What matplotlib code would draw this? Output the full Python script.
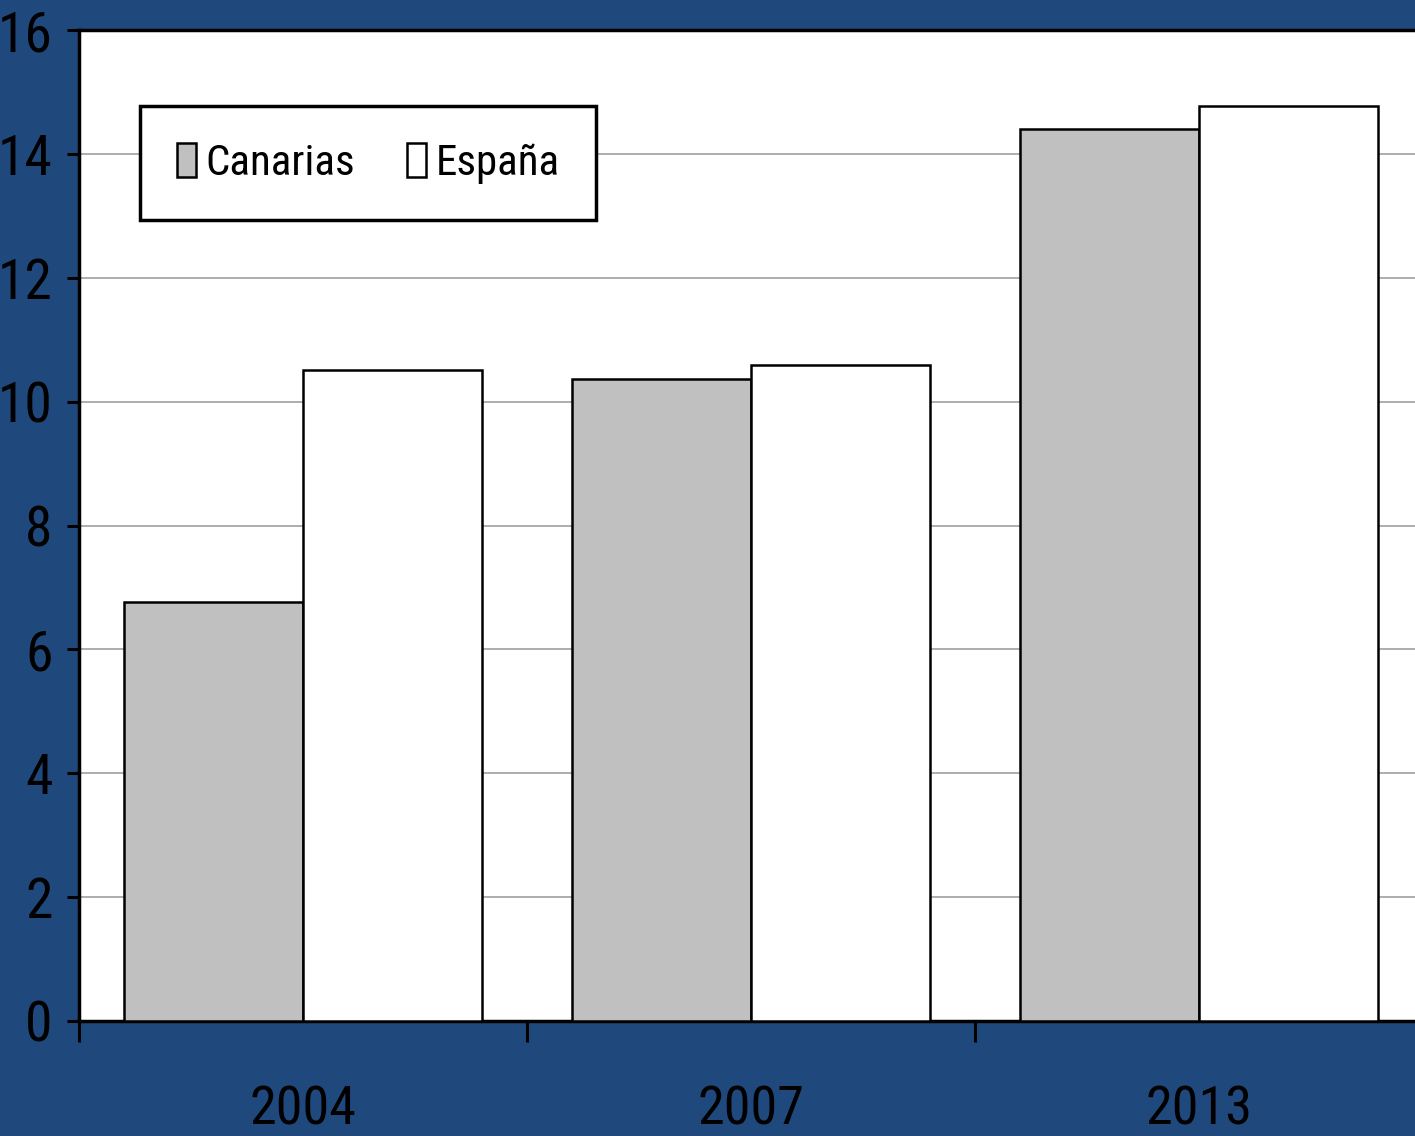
import matplotlib.pyplot as plt
from matplotlib import font_manager
import numpy as np

years = ['2004', '2007', '2013']
canarias = [6.77, 10.36, 14.4]
espana = [10.51, 10.59, 14.78]

# look for a narrow sans font, otherwise fall back to a condensed DejaVu
names = {(f.name, f.stretch) for f in font_manager.fontManager.ttflist}
fam = ['DejaVu Sans']
stretch = 'normal'
for cand in ['Liberation Sans Narrow', 'Roboto Condensed', 'Open Sans Condensed', 'Noto Sans Condensed']:
    if any(n == cand for n, s in names):
        fam = [cand, 'DejaVu Sans']
        break
else:
    if any(n == 'DejaVu Sans' and s in ('condensed', 'semi-condensed', 600, 700) for n, s in names):
        stretch = 'condensed'
plt.rcParams['font.family'] = fam
plt.rcParams['font.stretch'] = stretch

bg = '#1F487C'
fig = plt.figure(figsize=(14.15, 11.36), dpi=100, facecolor=bg)
ax = fig.add_axes([79 / 1415, 115 / 1136, 1344 / 1415, 991 / 1136])

x = np.arange(len(years))
w = 0.4
ax.bar(x - w / 2, canarias, w, color='#C0C0C0', edgecolor='black', linewidth=1.8, label='Canarias', zorder=3)
ax.bar(x + w / 2, espana, w, color='white', edgecolor='black', linewidth=1.8, label='España', zorder=3)

ax.set_xlim(-0.5, 2.5)
ax.set_ylim(0, 16)
ax.set_yticks(np.arange(0, 17, 2))
ax.yaxis.grid(True, color='#A0A0A0', linewidth=1.2, zorder=0)
ax.set_axisbelow(True)

ax.set_xticks(x - 0.5)
ax.set_xticklabels([])
ax.set_xticks(x, minor=True)
ax.set_xticklabels(years, minor=True)
ax.tick_params(axis='x', which='minor', length=0, pad=46, labelsize=39)
ax.tick_params(axis='x', which='major', length=15, width=2.2, direction='out')
ax.tick_params(axis='y', length=9, width=2.2, direction='out', pad=10, labelsize=40)

for s in ['left', 'bottom', 'top']:
    ax.spines[s].set_linewidth(2.5)
ax.spines['right'].set_visible(False)

leg = ax.legend(loc='upper left', bbox_to_anchor=(140 / 1415, 1 - 106 / 1136),
                bbox_transform=fig.transFigure, ncol=2, fontsize=31,
                frameon=True, fancybox=False, edgecolor='black', framealpha=1,
                handlelength=0.45, handleheight=0.85, handletextpad=0.22,
                columnspacing=1.2, borderpad=0.85, borderaxespad=0)
leg.get_frame().set_linewidth(2.5)

fig.savefig('out.png', dpi=100, facecolor=bg)
